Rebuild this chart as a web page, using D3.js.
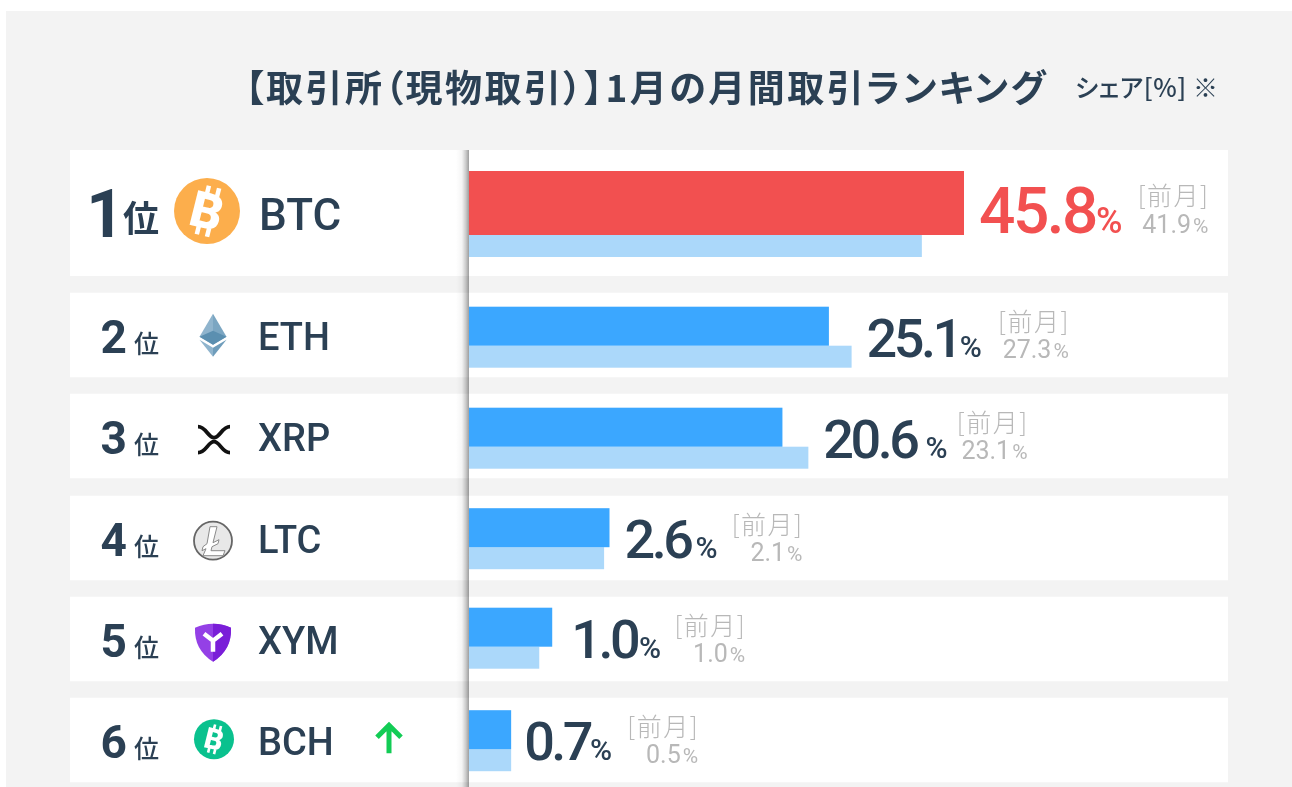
<!DOCTYPE html>
<html lang="ja">
<head>
<meta charset="utf-8">
<script src="https://cdn.jsdelivr.net/npm/d3@7"></script>
<style>
  html, body { margin: 0; background: #fff; overflow: hidden; }
  svg { display: block; filter: blur(0.45px); }
  .jp { font-family: "Noto Sans CJK JP", sans-serif; }
  .num { font-family: Roboto, sans-serif; }
</style>
</head>
<body>
<svg width="1292" height="787"></svg>
<script>
const ranks = [1, 2, 3, 4, 5, 6];
const tickers = ["BTC", "ETH", "XRP", "LTC", "XYM", "BCH"];
const shareLabels = ["45.8", "25.1", "20.6", "2.6", "1.0", "0.7"];
const prevLabels = ["41.9", "27.3", "23.1", "2.1", "1.0", "0.5"];
// bar lengths, in BTC-bar units. the source does not
// draw the small shares to scale so these differ from the printed numbers
const barValues = [45.8, 33.3, 29.0, 13.0, 7.7, 3.9];
const prevBarValues = [41.9, 35.4, 31.4, 12.5, 6.5, 3.9];
const riseFlags = [false, false, false, false, false, true];

const svg = d3.select("svg");
const dark = "#2b4054";
const grey = "#b8b8b8";

const x = d3.scaleLinear().domain([0, 45.8]).range([469, 964]);

// first row is the tall one
const rowHeight = i => i === 0 ? 126 : 84.6;
const rowTop = i => i === 0 ? 150 : Math.round(293 + (i - 1) * 101.25) - 0.3;
// the bars are not quite centred the same way in every row
const barOffset = i => [21, 14, 14, 12.5, 11, 12.5][i];
const labelNudge = i => [0, 0, 0, 0, 4, -2][i];
const pctGap = i => [0, 0, 9, 5, 2, 0][i];
const blockGap = i => [86, 87, 80, 85, 84, 86][i];

// panel
svg.append("rect").attr("x", 6).attr("y", 11).attr("width", 1286).attr("height", 776).attr("fill", "#f3f3f3");

// title
svg.append("text").attr("class", "jp")
  .attr("x", 245).attr("y", 102)
  .attr("font-size", 37).attr("font-weight", 700).attr("fill", dark)
  .attr("letter-spacing", 2.5)
  .style("font-feature-settings", "'palt'")
  .text("【取引所（現物取引）】1月の月間取引ランキング");

svg.append("text").attr("class", "jp")
  .attr("x", 1075).attr("y", 97)
  .attr("font-size", 25).attr("font-weight", 500).attr("fill", dark)
  .attr("letter-spacing", 0.6)
  .style("font-feature-settings", "'palt'")
  .text("シェア[%] ※");

const rows = svg.selectAll("g.row").data(ranks).join("g").attr("class", "row");

rows.append("rect")
  .attr("x", 70).attr("width", 1158)
  .attr("y", (d, i) => rowTop(i))
  .attr("height", (d, i) => rowHeight(i))
  .attr("fill", "#fff");

// shadow down the left edge of the bars
const grad = svg.append("defs").append("linearGradient").attr("id", "edge");
grad.append("stop").attr("offset", "0%").attr("stop-color", "#000").attr("stop-opacity", 0);
grad.append("stop").attr("offset", "45%").attr("stop-color", "#000").attr("stop-opacity", 0.04);
grad.append("stop").attr("offset", "75%").attr("stop-color", "#000").attr("stop-opacity", 0.2);
grad.append("stop").attr("offset", "100%").attr("stop-color", "#000").attr("stop-opacity", 0.38);

// previous month bars, then the current ones
rows.append("rect")
  .attr("x", x(0))
  .attr("y", (d, i) => rowTop(i) + barOffset(i) + (i === 0 ? 64 : 39))
  .attr("width", (d, i) => x(prevBarValues[i]) - x(0))
  .attr("height", 22)
  .attr("fill", "#abd8fa");

rows.append("rect")
  .attr("x", x(0))
  .attr("y", (d, i) => rowTop(i) + barOffset(i))
  .attr("width", (d, i) => x(barValues[i]) - x(0))
  .attr("height", (d, i) => i === 0 ? 64 : 39)
  .attr("fill", (d, i) => i === 0 ? "#f25050" : "#3ba7ff");

svg.append("rect").attr("x", 456).attr("y", 150).attr("width", 13).attr("height", 637).attr("fill", "url(#edge)");

// rank number + 位
rows.append("text").attr("class", "num")
  .attr("text-anchor", "end")
  .attr("x", (d, i) => i === 0 ? 124 : 127)
  .attr("y", (d, i) => rowTop(i) + (i === 0 ? 87 : 60))
  .attr("font-size", (d, i) => i === 0 ? 66 : 46)
  .attr("font-weight", 700).attr("fill", dark)
  .text(d => d);

rows.append("text").attr("class", "jp")
  .attr("text-anchor", "end").attr("x", 159)
  .attr("y", (d, i) => rowTop(i) + (i === 0 ? 82 : 60))
  .attr("font-size", (d, i) => i === 0 ? 36 : 25)
  .attr("font-weight", (d, i) => i === 0 ? 700 : 500).attr("fill", dark)
  .text("位");

// ticker
rows.append("text").attr("class", "num")
  .attr("x", (d, i) => i === 0 ? 259 : 258)
  .attr("y", (d, i) => rowTop(i) + (i === 0 ? 80 : 57))
  .attr("font-size", (d, i) => i === 0 ? 44 : 38)
  .attr("font-weight", 500).attr("fill", dark)
  .text((d, i) => tickers[i]);

// big value and the [前月] block, placed after measuring
rows.each(function(d, i) {
  const g = d3.select(this);
  const top = rowTop(i);
  const big = i === 0;
  const color = big ? "#f25050" : dark;
  const startX = x(Math.max(barValues[i], big ? 0 : prevBarValues[i])) + 15 + labelNudge(i);
  const t = g.append("text").attr("class", "num")
    .attr("x", startX).attr("y", top + (big ? 83 : barOffset(i) + 50))
    .attr("font-size", big ? 64 : 54).attr("font-weight", 500)
    .attr("letter-spacing", big ? -2.5 : -3.5)
    .attr("fill", color);
  t.append("tspan").text(shareLabels[i]);
  const pct = t.append("tspan").attr("dx", pctGap(i)).attr("font-size", big ? 36 : 30).attr("letter-spacing", 0).text("%");
  const end = pct.node().getEndPositionOfChar(0).x;
  const right = end + blockGap(i);

  g.append("text").attr("class", "jp")
    .attr("text-anchor", "end").attr("x", right + 1)
    .attr("y", top + (big ? 55 : 38))
    .attr("font-size", 25).attr("font-weight", 300).attr("fill", grey)
    .attr("letter-spacing", 1.5)
    .text("[前月]");

  const p = g.append("text").attr("class", "num")
    .attr("text-anchor", "end").attr("x", right)
    .attr("y", top + (big ? 83 : 65.5))
    .attr("font-size", 25).attr("fill", grey);
  p.append("tspan").text(prevLabels[i]);
  p.append("tspan").attr("dx", 2).attr("font-size", 21).text("%");
});

// coin icons
function btcGlyph(g, cx, cy, size) {
  const b = g.append("g").attr("transform", `translate(${cx},${cy}) rotate(14)`);
  b.append("text").attr("class", "num").attr("text-anchor", "middle")
    .attr("y", size * 0.35).attr("font-size", size).attr("font-weight", 900)
    .attr("fill", "#fff").text("B");
  [-0.13, 0.08].forEach(o => {
    [-0.5, 0.32].forEach(s => {
      b.append("rect").attr("x", size * o).attr("y", size * s).attr("width", size * 0.09).attr("height", size * 0.18).attr("fill", "#fff");
    });
  });
}

const iconX = 213;
const iconCy = i => rowTop(i) + 43;

// BTC
svg.append("circle").attr("cx", 207).attr("cy", 211).attr("r", 33).attr("fill", "#fcae4c");
btcGlyph(svg, 207, 211, 50);

// ETH
const eth = svg.append("g").attr("transform", `translate(${iconX},${iconCy(1)})`);
eth.append("path").attr("d", "M0,-22 L-13.5,1 L0,9 Z").attr("fill", "#8fb4cd");
eth.append("path").attr("d", "M0,-22 L13.5,1 L0,9 Z").attr("fill", "#7ba6c2");
eth.append("path").attr("d", "M-13.5,1 L0,-5 L13.5,1 L0,9 Z").attr("fill", "#5b8fb0");
eth.append("path").attr("d", "M-13.5,4 L0,12 L0,21 Z").attr("fill", "#8fb4cd");
eth.append("path").attr("d", "M13.5,4 L0,12 L0,21 Z").attr("fill", "#6f9dbb");

// XRP
svg.append("g").attr("transform", `translate(${iconX + 1},${iconCy(2) + 3})`)
  .append("path")
  .attr("d", "M-16,-13 C-8,-13 -6,-2 0,-2 C6,-2 8,-13 16,-13 M-16,13 C-8,13 -6,2 0,2 C6,2 8,13 16,13")
  .attr("fill", "none").attr("stroke", "#111").attr("stroke-width", 3.8);

// LTC
const ltc = svg.append("g").attr("transform", `translate(${iconX},${iconCy(3) + 2})`);
ltc.append("circle").attr("r", 19).attr("fill", "#e8e8e8").attr("stroke", "#666").attr("stroke-width", 1.8);
ltc.append("path")
  .attr("d", "M-3,-14 L4,-14 L0,2 L6,-1 L5,3 L-1,6 L-2,10 L12,10 L10,15 L-10,15 L-7,8 L-11,10 L-10,6 L-6,3 Z")
  .attr("fill", "#fff").attr("stroke", "#8a8a8a").attr("stroke-width", 1);

// XYM
const xym = svg.append("g").attr("transform", `translate(${iconX},${iconCy(4) + 2})`);
xym.append("path").attr("d", "M-18,-14 Q0,-22 18,-14 Q19,8 0,20 Q-19,8 -18,-14 Z").attr("fill", "#9440e6");
xym.append("path").attr("d", "M0,-18 Q10,-18 18,-14 Q19,8 0,20 Z").attr("fill", "#7a1ed8");
xym.append("path").attr("d", "M-9,-8 L0,-1 L9,-8 M0,-1 L0,10").attr("fill", "none").attr("stroke", "#fff").attr("stroke-width", 4.5);

// BCH
svg.append("circle").attr("cx", iconX + 1).attr("cy", iconCy(5) - 1.5).attr("r", 20).attr("fill", "#0ac18e");
btcGlyph(svg, iconX + 1, iconCy(5) - 1.5, 29);

// risers get a green arrow
rows.filter((d, i) => riseFlags[i]).append("path")
  .attr("transform", d => `translate(389,${rowTop(ranks.indexOf(d)) + 40.5})`)
  .attr("d", "M0,15 L0,-13 M-12,-1 L0,-13 L12,-1")
  .attr("fill", "none").attr("stroke", "#12cc55").attr("stroke-width", 5);
</script>
</body>
</html>
